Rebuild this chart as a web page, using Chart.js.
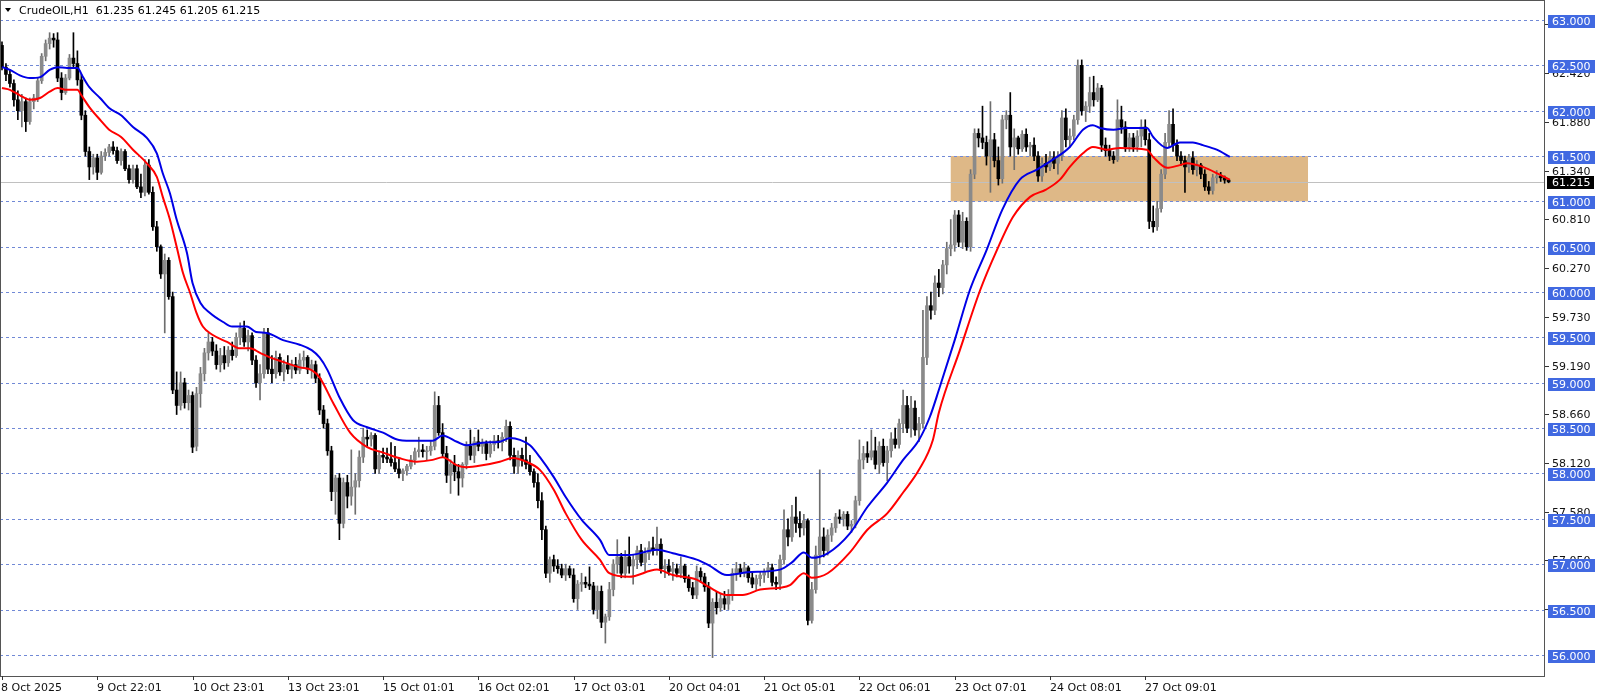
<!DOCTYPE html>
<html>
<head>
<meta charset="utf-8">
<script src="https://cdn.jsdelivr.net/npm/chart.js@4.4.1/dist/chart.umd.min.js"></script>
<style>
html,body{margin:0;padding:0;background:#fff;}
#wrap{width:1600px;height:696px;position:relative;}
canvas{display:block;}
</style>
</head>
<body>
<div id="wrap"><canvas id="c" width="1600" height="696"></canvas></div>
<script>
// ---------- DATA ----------
const symbolTitle = "CrudeOIL,H1  61.235 61.245 61.205 61.215";
const xTickBars = [0,24,48,72,96,120,144,168,192,216,240,264,288];
const xTickLabels = ["8 Oct 2025","9 Oct 22:01","10 Oct 23:01","13 Oct 23:01","15 Oct 01:01","16 Oct 02:01","17 Oct 03:01","20 Oct 04:01","21 Oct 05:01","22 Oct 06:01","23 Oct 07:01","24 Oct 08:01","27 Oct 09:01"];
const priceTicks = [62.96,62.42,61.88,61.34,60.81,60.27,59.73,59.19,58.66,58.12,57.58,57.05,56.51];
const levelLines = [63.0,62.5,62.0,61.5,61.0,60.5,60.0,59.5,59.0,58.5,58.0,57.5,57.0,56.5,56.0];
const lastPrice = 61.215;
const zoneBars = [239, 329];
const zonePrices = [61.0, 61.5];

const opens = [
62.72,62.48,62.40,62.30,62.12,62.00,62.10,61.88,62.10,62.14,
62.33,62.60,62.74,62.80,62.78,62.36,62.20,62.36,62.58,62.52,
62.34,61.95,61.55,61.38,61.48,61.32,61.50,61.54,61.60,61.56,
61.45,61.55,61.36,61.24,61.36,61.16,61.10,61.40,61.10,60.72,
60.50,60.20,60.35,59.95,58.92,58.75,59.00,58.78,58.86,58.30,
58.88,59.10,59.33,59.45,59.35,59.20,59.30,59.22,59.36,59.30,
59.50,59.60,59.45,59.52,59.25,59.00,59.10,59.55,59.15,59.10,
59.28,59.12,59.20,59.15,59.20,59.14,59.25,59.28,59.15,59.20,
59.05,58.70,58.55,58.25,57.80,57.95,57.45,57.90,57.75,57.85,
57.92,58.18,58.40,58.38,58.42,58.05,58.20,58.18,58.16,58.12,
58.05,58.00,58.03,58.08,58.15,58.24,58.26,58.24,58.25,58.30,
58.75,58.45,58.22,57.98,58.10,58.02,57.95,58.10,58.30,58.20,
58.35,58.30,58.33,58.22,58.32,58.36,58.34,58.40,58.52,58.20,
58.08,58.20,58.15,58.10,58.02,57.90,57.70,57.38,56.90,57.05,
56.98,56.95,56.88,56.95,56.88,56.62,56.78,56.80,56.78,56.76,
56.50,56.70,56.36,56.42,56.72,57.00,57.08,56.90,57.08,56.98,
57.05,57.15,57.02,57.12,57.18,57.15,57.22,56.95,56.98,56.92,
56.95,56.90,56.98,56.84,56.74,56.66,56.92,56.86,56.75,56.35,
56.58,56.52,56.62,56.56,56.66,56.90,56.95,56.90,56.96,56.85,
56.78,56.84,56.88,56.92,56.96,56.80,56.78,57.05,57.38,57.30,
57.52,57.45,57.40,57.48,56.38,56.72,57.10,57.30,57.15,57.32,
57.40,57.52,57.50,57.55,57.42,57.44,57.70,58.15,58.22,58.18,
58.25,58.10,58.30,58.12,58.25,58.38,58.32,58.55,58.75,58.50,
58.72,58.48,58.55,59.28,59.85,59.80,60.10,60.05,60.30,60.48,
60.52,60.85,60.55,60.78,60.50,61.30,61.75,61.70,61.65,61.50,
61.68,61.45,61.25,61.90,61.95,61.60,61.70,61.58,61.74,61.60,
61.62,61.50,61.28,61.42,61.38,61.48,61.42,61.50,61.92,61.68,
61.72,61.90,62.50,62.00,62.05,62.20,62.12,62.25,61.62,61.56,
61.50,61.46,61.90,61.82,61.60,61.70,61.60,61.72,61.82,61.68,
60.78,60.72,60.92,61.30,61.65,61.85,61.62,61.50,61.45,61.38,
61.48,61.35,61.40,61.30,61.16,61.12,61.26,61.28,61.26,61.235];

const highs = [
62.76,62.52,62.45,62.34,62.22,62.18,62.14,62.14,62.18,62.36,
62.63,62.78,62.86,62.85,62.86,62.42,62.40,62.62,62.86,62.66,
62.40,62.00,61.60,61.52,61.52,61.55,61.58,61.63,61.66,61.60,
61.58,61.57,61.40,61.40,61.40,61.30,61.46,61.46,61.16,60.78,
60.52,60.42,60.38,60.00,59.12,59.12,59.05,58.92,58.90,58.95,
59.17,59.38,59.55,59.50,59.42,59.38,59.40,59.40,59.45,59.55,
59.66,59.68,59.58,59.55,59.30,59.20,59.60,59.60,59.30,59.35,
59.32,59.25,59.30,59.25,59.28,59.32,59.35,59.30,59.25,59.24,
59.10,58.75,58.60,58.30,57.98,58.00,57.95,57.98,58.26,58.00,
58.25,58.50,58.48,58.45,58.44,58.25,58.28,58.28,58.34,58.30,
58.16,58.05,58.10,58.20,58.28,58.40,58.32,58.30,58.36,58.90,
58.85,58.55,58.30,58.15,58.20,58.10,58.12,58.35,58.48,58.40,
58.48,58.38,58.36,58.36,58.42,58.42,58.45,58.59,58.57,58.28,
58.25,58.28,58.40,58.20,58.05,58.00,57.79,57.42,57.08,57.10,
57.05,57.00,57.00,56.98,56.95,56.82,56.90,56.86,56.97,56.80,
56.76,56.76,56.45,56.80,57.05,57.27,57.12,57.15,57.30,57.10,
57.20,57.22,57.18,57.25,57.30,57.41,57.28,57.05,57.05,57.02,
57.00,57.08,57.00,56.88,56.80,56.98,56.96,56.90,56.80,56.62,
56.70,56.68,56.70,56.72,56.95,57.02,57.00,57.02,56.98,56.92,
56.88,56.92,56.95,57.02,57.00,56.86,57.10,57.60,57.50,57.65,
57.74,57.58,57.55,57.50,56.80,57.20,58.04,57.40,57.38,57.45,
57.56,57.60,57.58,57.58,57.48,57.75,58.37,58.30,58.35,58.48,
58.40,58.35,58.38,58.30,58.45,58.50,58.60,58.92,58.85,58.85,
58.80,58.62,59.80,59.95,60.00,60.18,60.25,60.35,60.55,60.80,
60.90,60.90,60.88,60.82,61.35,61.80,61.80,62.05,61.72,62.10,
61.75,61.60,61.95,62.00,62.20,61.80,61.72,61.78,61.80,61.65,
61.70,61.55,61.48,61.52,61.55,61.55,61.55,62.00,62.02,61.80,
61.95,62.56,62.56,62.10,62.37,62.38,62.30,62.28,61.70,61.62,
61.55,62.12,62.05,61.88,61.75,61.75,61.78,61.90,61.90,61.75,
60.95,61.00,61.35,61.75,62.00,62.02,61.68,61.55,61.50,61.52,
61.55,61.45,61.42,61.35,61.22,61.30,61.34,61.32,61.28,61.245];

const lows = [
62.45,62.33,62.26,62.05,61.90,61.82,61.77,61.85,62.02,62.10,
62.30,62.55,62.68,62.70,62.32,62.12,62.18,62.34,62.48,62.28,
61.90,61.50,61.24,61.30,61.24,61.30,61.45,61.50,61.52,61.42,
61.40,61.34,61.20,61.20,61.14,61.04,61.06,61.08,60.68,60.45,
60.15,59.55,59.92,58.88,58.65,58.70,58.72,58.70,58.23,58.25,
58.73,59.02,59.25,59.30,59.15,59.12,59.15,59.18,59.25,59.28,
59.42,59.40,59.35,59.20,58.95,58.81,59.05,59.10,59.00,59.05,
59.08,59.02,59.10,59.05,59.10,59.10,59.18,59.10,59.05,59.00,
58.65,58.50,58.20,57.70,57.55,57.27,57.40,57.62,57.65,57.55,
57.85,58.12,58.30,58.30,58.00,58.00,58.12,58.12,58.08,58.02,
57.95,57.92,57.98,58.05,58.10,58.18,58.18,58.15,58.20,58.26,
58.42,58.18,57.90,57.78,57.92,57.76,57.85,58.05,58.15,58.12,
58.25,58.22,58.15,58.18,58.25,58.28,58.25,58.35,58.15,58.00,
58.00,58.08,58.05,57.98,57.85,57.62,57.27,56.85,56.80,56.92,
56.90,56.85,56.82,56.85,56.58,56.50,56.70,56.74,56.72,56.45,
56.40,56.30,56.13,56.38,56.65,56.90,56.85,56.85,56.90,56.78,
56.95,56.98,56.92,57.05,57.10,57.10,56.90,56.85,56.88,56.82,
56.86,56.85,56.80,56.70,56.62,56.62,56.80,56.70,56.30,55.97,
56.45,56.48,56.50,56.50,56.60,56.82,56.86,56.86,56.80,56.74,
56.72,56.76,56.80,56.85,56.76,56.72,56.72,57.00,57.20,57.25,
57.35,57.30,57.32,56.33,56.35,56.68,57.00,57.08,57.10,57.25,
57.35,57.45,57.42,57.38,57.35,57.40,57.65,58.05,58.12,58.15,
58.05,58.00,58.08,57.92,58.18,58.28,58.28,58.45,58.45,58.40,
58.42,58.35,58.50,59.20,59.70,59.75,59.95,59.98,60.20,60.40,
60.45,60.50,60.48,60.46,60.45,61.25,61.60,61.58,61.40,61.10,
61.38,61.18,61.20,61.80,61.50,61.35,61.52,61.55,61.55,61.50,
61.45,61.22,61.22,61.32,61.34,61.36,61.30,61.45,61.60,61.60,
61.68,61.85,61.95,61.88,61.98,62.05,62.10,61.55,61.50,61.45,
61.42,61.44,61.75,61.55,61.55,61.55,61.55,61.60,61.62,60.70,
60.66,60.68,60.88,61.25,61.60,61.55,61.45,61.40,61.10,61.32,
61.30,61.28,61.25,61.12,61.08,61.08,61.20,61.22,61.20,61.205];

const closes = [
62.48,62.40,62.30,62.12,62.00,62.10,61.88,62.10,62.14,62.33,
62.60,62.74,62.80,62.78,62.36,62.20,62.36,62.58,62.52,62.34,
61.95,61.55,61.38,61.48,61.32,61.50,61.54,61.60,61.56,61.45,
61.55,61.36,61.24,61.36,61.16,61.10,61.40,61.10,60.72,60.50,
60.20,60.35,59.95,58.92,58.75,59.00,58.78,58.86,58.29,58.88,
59.10,59.33,59.45,59.35,59.20,59.30,59.22,59.36,59.30,59.50,
59.60,59.45,59.52,59.25,59.00,59.10,59.55,59.15,59.10,59.28,
59.12,59.20,59.15,59.20,59.14,59.25,59.28,59.15,59.20,59.05,
58.70,58.55,58.25,57.80,57.95,57.45,57.90,57.75,57.85,57.92,
58.18,58.40,58.38,58.42,58.05,58.20,58.18,58.16,58.12,58.05,
58.00,58.03,58.08,58.15,58.24,58.26,58.24,58.25,58.30,58.75,
58.45,58.22,57.98,58.10,58.02,57.95,58.10,58.30,58.20,58.35,
58.30,58.33,58.22,58.32,58.36,58.34,58.40,58.52,58.20,58.08,
58.20,58.15,58.10,58.02,57.90,57.70,57.38,56.90,57.05,56.98,
56.95,56.88,56.95,56.88,56.62,56.78,56.80,56.78,56.76,56.50,
56.70,56.36,56.42,56.72,57.00,57.08,56.90,57.08,56.98,57.05,
57.15,57.02,57.12,57.18,57.15,57.22,56.95,56.98,56.92,56.95,
56.90,56.98,56.84,56.74,56.66,56.92,56.86,56.75,56.35,56.58,
56.52,56.62,56.56,56.66,56.90,56.95,56.90,56.96,56.85,56.78,
56.84,56.88,56.92,56.96,56.80,56.78,57.05,57.38,57.30,57.52,
57.45,57.40,57.48,56.38,56.72,57.10,57.30,57.15,57.32,57.40,
57.52,57.50,57.55,57.42,57.44,57.70,58.15,58.22,58.18,58.25,
58.10,58.30,58.12,58.25,58.38,58.32,58.55,58.75,58.50,58.72,
58.48,58.55,59.28,59.85,59.80,60.10,60.05,60.30,60.48,60.52,
60.85,60.55,60.78,60.50,61.30,61.75,61.70,61.65,61.50,61.68,
61.45,61.25,61.90,61.95,61.60,61.70,61.58,61.74,61.60,61.62,
61.50,61.28,61.42,61.38,61.48,61.42,61.50,61.92,61.68,61.72,
61.90,62.50,62.00,62.05,62.20,62.12,62.25,61.62,61.56,61.50,
61.46,61.90,61.82,61.60,61.70,61.60,61.72,61.82,61.68,60.78,
60.72,60.92,61.30,61.65,61.85,61.62,61.50,61.45,61.38,61.48,
61.35,61.40,61.30,61.16,61.12,61.26,61.28,61.26,61.235,61.215];

// moving-average lines (at bar positions)
const blueMaBars = [0,2,4.5,7,9.6,12,14,16.4,19,20.4,22,24.7,27,30,33,36.5,39,40.5,42.3,44,46.6,48,50,52.4,55.7,58,61.7,64,66.7,70.8,75,78,80,82,85,88.4,92,96,100,104.5,108.5,111,114.6,117,121,125.4,128,130.5,133,135.5,139,142,146,150.6,153,158,165,169,175,178,182.6,187.7,196,199,202,204,208,213.6,218,223,227,231,233.7,236,240,243.8,248,252,256.4,260.7,264.7,269,272.3,274.8,276.6,280,283.4,288.4,290,293.5,296.7,300,302.5,306,309.3];
const blueMaValues = [62.48,62.45,62.39,62.36,62.37,62.45,62.48,62.47,62.47,62.37,62.26,62.14,62.03,61.95,61.82,61.70,61.53,61.31,61.09,60.80,60.43,60.10,59.88,59.77,59.67,59.62,59.62,59.56,59.55,59.47,59.42,59.36,59.28,59.14,58.84,58.59,58.51,58.45,58.37,58.36,58.36,58.42,58.35,58.31,58.34,58.35,58.39,58.37,58.31,58.18,57.96,57.74,57.49,57.27,57.10,57.10,57.16,57.12,57.05,56.99,56.88,56.91,56.94,57.02,57.13,57.07,57.12,57.34,57.63,57.90,58.15,58.37,58.62,58.92,59.47,60.02,60.46,60.91,61.24,61.35,61.46,61.60,61.79,61.84,61.81,61.79,61.81,61.81,61.71,61.59,61.65,61.65,61.62,61.57,61.49];
const redMaBars = [0,2,4.5,7,9.6,12,14,16.4,19,20,22,24.7,27,30,33,36.5,39,40.5,42.3,44,45.6,47.4,49,50.6,53,56.7,60,62.5,65,67.5,70.8,75,78,80,83.4,87.7,92,96,100,104.5,108.5,111,114.6,117,121,125.4,128.7,132,135.5,139,142,146,150.6,153,158,165,169,175,178,182.6,186.6,191,196,198.5,202,204,208,213.6,218,223,227,231,234.5,236,241.3,246.4,250.6,254.7,259,263,266.5,269,272.3,274.8,278.3,281.6,288.4,290,293.5,296.7,298.5,302.5,307,309.3];
const redMaValues = [62.25,62.23,62.17,62.12,62.14,62.21,62.25,62.23,62.23,62.17,62.04,61.90,61.79,61.71,61.57,61.42,61.27,61.05,60.80,60.50,60.21,59.99,59.77,59.62,59.53,59.45,59.38,59.38,59.33,59.28,59.23,59.17,59.14,59.06,58.78,58.45,58.29,58.23,58.17,58.13,58.15,58.18,58.09,58.07,58.09,58.13,58.17,58.13,58.04,57.82,57.56,57.27,57.05,56.90,56.86,56.94,56.88,56.83,56.75,56.66,56.66,56.72,56.74,56.77,56.90,56.85,56.90,57.13,57.38,57.56,57.79,58.04,58.37,58.67,59.36,60.02,60.46,60.83,61.05,61.13,61.24,61.38,61.53,61.60,61.57,61.59,61.57,61.49,61.37,61.40,61.42,61.38,61.29,61.24];

// ---------- STYLE ----------
const FONT = '11px "DejaVu Sans", sans-serif';
const BULL_BODY = '#8a8a8a', BEAR_BODY = '#000000';
const BULL_WICK = '#6e6e6e', BEAR_WICK = '#000000';
const LEVEL_COLOR = '#4169E1';
const LEVEL_LINE_COLOR = '#7189d6';
const ZONE_COLOR = '#DEB887';

const idx = opens.map((_, i) => i);
const isBull = i => closes[i] >= opens[i];

const wickData = idx.map(i => ({x: i, y: [lows[i], highs[i]]}));
const bodyData = idx.map(i => ({x: i, y: [opens[i], closes[i]]}));
const blueData = blueMaBars.map((b, k) => ({x: b, y: blueMaValues[k]}));
const redData = redMaBars.map((b, k) => ({x: b, y: redMaValues[k]}));

const decor = {
  id: 'decor',
  beforeDatasetsDraw(chart) {
    const {ctx, chartArea: a, scales: {x, y}} = chart;
    ctx.save();
    ctx.beginPath(); ctx.rect(a.left, a.top, a.right - a.left, a.bottom - a.top); ctx.clip();
    // zone rectangle
    const zx1 = x.getPixelForValue(zoneBars[0]), zx2 = x.getPixelForValue(zoneBars[1]);
    const zy1 = y.getPixelForValue(zonePrices[1]), zy2 = y.getPixelForValue(zonePrices[0]);
    ctx.fillStyle = ZONE_COLOR;
    ctx.fillRect(zx1, zy1, zx2 - zx1, zy2 - zy1);
    // current price line
    const py = Math.round(y.getPixelForValue(lastPrice)) + 0.5;
    ctx.strokeStyle = '#c0c0c0'; ctx.lineWidth = 1;
    ctx.beginPath(); ctx.moveTo(a.left, py); ctx.lineTo(a.right, py); ctx.stroke();
    // dashed level lines
    ctx.strokeStyle = LEVEL_LINE_COLOR; ctx.setLineDash([3, 3]);
    levelLines.forEach(v => {
      const yy = Math.round(y.getPixelForValue(v)) + 0.5;
      ctx.beginPath(); ctx.moveTo(a.left, yy); ctx.lineTo(a.right, yy); ctx.stroke();
    });
    ctx.restore();
  },
  afterDraw(chart) {
    const {ctx, chartArea: a, scales: {x, y}} = chart;
    ctx.save();
    // frame
    ctx.strokeStyle = '#555555'; ctx.lineWidth = 1; ctx.setLineDash([]);
    ctx.strokeRect(a.left + 0.5, a.top + 0.5, a.right - a.left - 1, a.bottom - a.top);
    ctx.font = FONT;
    ctx.textBaseline = 'middle';
    ctx.textAlign = 'left';
    // price scale ticks
    priceTicks.forEach(v => {
      const yy = Math.round(y.getPixelForValue(v)) + 0.5;
      ctx.strokeStyle = '#333'; ctx.beginPath(); ctx.moveTo(a.right, yy); ctx.lineTo(a.right + 4, yy); ctx.stroke();
      ctx.fillStyle = '#111';
      ctx.fillText(v.toFixed(3), a.right + 7, yy + 1);
    });
    // level labels
    levelLines.forEach(v => {
      const yy = Math.round(y.getPixelForValue(v));
      ctx.fillStyle = LEVEL_COLOR;
      ctx.fillRect(a.right + 3, yy - 5, 47, 13);
      ctx.fillStyle = '#ffffff';
      ctx.fillText(v.toFixed(3), a.right + 7, yy + 2);
    });
    // last price label
    const ly = Math.round(y.getPixelForValue(lastPrice));
    ctx.fillStyle = '#000';
    ctx.fillRect(a.right + 2, ly - 6, 47, 13);
    ctx.fillStyle = '#fff';
    ctx.fillText(lastPrice.toFixed(3), a.right + 7, ly + 1);
    // time axis
    ctx.fillStyle = '#111'; ctx.strokeStyle = '#333';
    xTickBars.forEach((b, k) => {
      const xx = Math.round(x.getPixelForValue(b)) + 0.5;
      ctx.beginPath(); ctx.moveTo(xx, a.bottom); ctx.lineTo(xx, a.bottom + 4); ctx.stroke();
      ctx.fillText(xTickLabels[k], k === 0 ? 1 : xx - 0.5, a.bottom + 12);
    });
    // title
    ctx.fillStyle = '#000';
    ctx.beginPath(); ctx.moveTo(5, 8); ctx.lineTo(11, 8); ctx.lineTo(8, 12); ctx.closePath(); ctx.fill();
    ctx.fillText(symbolTitle, 19, 11);
    ctx.restore();
  }
};

new Chart(document.getElementById('c'), {
  type: 'bar',
  data: {
    datasets: [
      {type: 'line', data: blueData, borderColor: '#0000e6', borderWidth: 2, pointRadius: 0, cubicInterpolationMode: 'monotone', order: 0},
      {type: 'line', data: redData, borderColor: '#ff0000', borderWidth: 2, pointRadius: 0, cubicInterpolationMode: 'monotone', order: 1},
      {type: 'bar', data: bodyData, barThickness: 3, minBarLength: 1, grouped: false, borderWidth: 0,
        backgroundColor: idx.map(i => isBull(i) ? BULL_BODY : BEAR_BODY), order: 2},
      {type: 'bar', data: wickData, barThickness: 1, grouped: false, borderWidth: 0,
        backgroundColor: idx.map(i => isBull(i) ? BULL_WICK : BEAR_WICK), order: 3}
    ]
  },
  options: {
    responsive: false, animation: false, events: [],
    layout: {padding: {left: 0, right: 55, top: 0, bottom: 20}},
    plugins: {legend: {display: false}, tooltip: {enabled: false}},
    scales: {
      x: {type: 'linear', min: -0.5, max: 388.7, offset: false, display: false},
      y: {type: 'linear', min: 55.767, max: 63.2205, display: false}
    }
  },
  plugins: [decor]
});
</script>
</body>
</html>
